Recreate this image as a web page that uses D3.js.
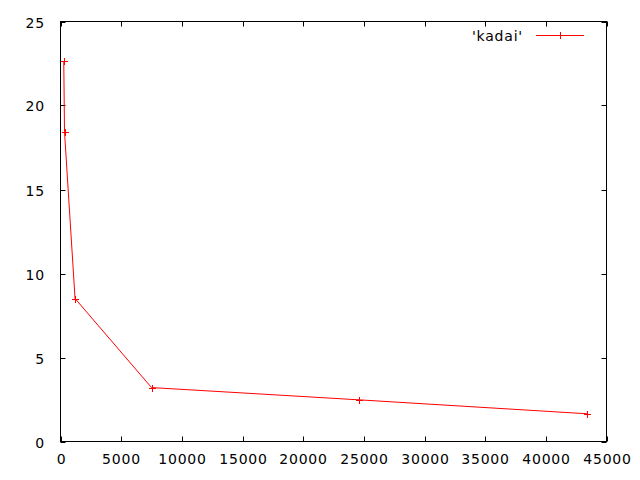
<!DOCTYPE html>
<html><head><meta charset="utf-8">
<script src="https://cdn.jsdelivr.net/npm/d3@7"></script>
<style>body{margin:0;background:#fff}svg{display:block}text{font-family:"DejaVu Sans",sans-serif;font-size:14px;letter-spacing:0.8px;fill:#000}</style>
</head><body>
<script>
const xValues = [270, 330, 1200, 7500, 24600, 43400];
const yValues = [22.62, 18.43, 8.51, 3.21, 2.48, 1.65];
const xTicks = [0, 5000, 10000, 15000, 20000, 25000, 30000, 35000, 40000, 45000];
const yTicks = [0, 5, 10, 15, 20, 25];
const seriesName = "'kadai'";

const W = 640, H = 480;
const L = 60.5, R = 606.5, T = 21.5, B = 441.5;
const svg = d3.select("body").append("svg").attr("width", W).attr("height", H);
const x = d3.scaleLinear().domain([0, 45000]).range([L, R]);
const y = d3.scaleLinear().domain([0, 25]).range([B, T]);
const tl = 5;

const g = svg.append("g");
// frame
g.append("rect").attr("x", L).attr("y", T).attr("width", R - L).attr("height", B - T)
  .attr("fill", "none").attr("stroke", "#000").attr("stroke-width", 1);

// ticks (inside, mirrored)
xTicks.forEach(v => {
  const px = Math.round(x(v)) + 0.5;
  g.append("line").attr("x1", px).attr("x2", px).attr("y1", B).attr("y2", B - tl).attr("stroke", "#000");
  g.append("line").attr("x1", px).attr("x2", px).attr("y1", T).attr("y2", T + tl).attr("stroke", "#000");
  g.append("text").attr("x", px).attr("y", 464).attr("text-anchor", "middle").text(v);
});
yTicks.forEach(v => {
  const py = Math.round(y(v)) + 0.5;
  g.append("line").attr("x1", L).attr("x2", L + tl).attr("y1", py).attr("y2", py).attr("stroke", "#000");
  g.append("line").attr("x1", R).attr("x2", R - tl).attr("y1", py).attr("y2", py).attr("stroke", "#000");
  g.append("text").attr("x", 45).attr("y", py).attr("dy", "0.36em").attr("text-anchor", "end").text(v);
});

const data = xValues.map((v, i) => [v, yValues[i]]);
const line = d3.line().x(d => x(d[0])).y(d => y(d[1]));
g.append("path").datum(data).attr("d", line).attr("fill", "none").attr("stroke", "#f00").attr("stroke-width", 1);

const m = 3.5;
data.forEach(d => {
  const px = Math.round(x(d[0])) + 0.5, py = Math.round(y(d[1])) + 0.5;
  g.append("path").attr("d", `M${px - m},${py}H${px + m}M${px},${py - m}V${py + m}`).attr("stroke", "#f00").attr("fill", "none");
});

// legend
const ly = 35.5;
g.append("text").attr("x", 523).attr("y", ly).attr("dy", "0.36em").attr("text-anchor", "end").text(seriesName);
g.append("line").attr("x1", 536).attr("x2", 584).attr("y1", ly).attr("y2", ly).attr("stroke", "#f00");
g.append("path").attr("d", `M${560.5 - m},${ly}H${560.5 + m}M${560.5},${ly - m}V${ly + m}`).attr("stroke", "#f00");
</script>
</body></html>
